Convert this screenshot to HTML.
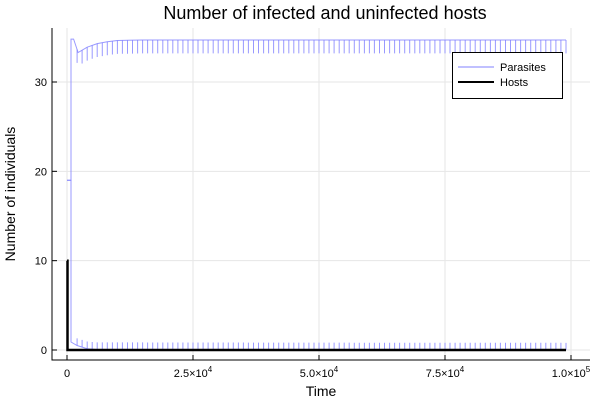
<!DOCTYPE html>
<html><head><meta charset="utf-8"><style>
body{margin:0;background:#fff;}
svg{display:block;font-family:"Liberation Sans",sans-serif;}
</style></head><body>
<svg id="c" width="600" height="400"></svg>
<script>
// data
const xTicks=[0,25000,50000,75000,100000];
const xTickLabels=[["0",""],["2.5×10","4"],["5.0×10","4"],["7.5×10","4"],["1.0×10","5"]];
const yTicks=[0,10,20,30];
const parasiteHighTimes=[0,800,801,1300,2200,4000,6000,8000,10000,15000,99000];
const parasiteHighValues=[19,19,34.8,34.8,33.3,33.9,34.3,34.5,34.65,34.7,34.7];
const parasiteLowTimes=[0,800,801,2000,4000,6000,99000];
const parasiteLowValues=[19,19,0.9,0.5,0.15,0.05,0];
const spikeTimes=[2000,3000,4000,5000,6000,7000,8000,9000,10000,11000,12000,13000,14000,15000,16000,17000,18000,19000,20000,21000,22000,23000,24000,25000,26000,27000,28000,29000,30000,31000,32000,33000,34000,35000,36000,37000,38000,39000,40000,41000,42000,43000,44000,45000,46000,47000,48000,49000,50000,51000,52000,53000,54000,55000,56000,57000,58000,59000,60000,61000,62000,63000,64000,65000,66000,67000,68000,69000,70000,71000,72000,73000,74000,75000,76000,77000,78000,79000,80000,81000,82000,83000,84000,85000,86000,87000,88000,89000,90000,91000,92000,93000,94000,95000,96000,97000,98000,99000];
const highSpikeDepth=[1.5];
const lowSpikeHeight=[0.8];
const hostTimes=[0,100,101,99000];
const hostValues=[10,10,0,0];

const svg=document.getElementById('c');
const NS='http://www.w3.org/2000/svg';
const X=v=>67+v*(504/100000);
const Y=v=>350-v*(268/30);
function el(t,a,p){const e=document.createElementNS(NS,t);for(const k in a)e.setAttribute(k,a[k]);(p||svg).appendChild(e);return e;}

// grid
for(const t of xTicks){const g=el('line',{x1:X(t),x2:X(t),y1:28,y2:360,stroke:'#e6e6e6','stroke-width':1});

}
for(const t of yTicks){const g=el('line',{x1:52,x2:590,y1:Y(t),y2:Y(t),stroke:'#e6e6e6','stroke-width':1});

}
// axes
const ax=el('path',{d:'M52,28 V360 H590',fill:'none',stroke:'#000','stroke-width':1});


xTicks.forEach((t,i)=>{
 el('line',{x1:X(t),x2:X(t),y1:360,y2:355,stroke:'#000'});
 const tx=el('text',{x:X(t),y:377,'font-size':11,'text-anchor':'middle'});
 tx.textContent=xTickLabels[i][0];
 if(xTickLabels[i][1]){const s=el('tspan',{'font-size':8,dy:-5},tx);s.textContent=xTickLabels[i][1];}
 
 
});
yTicks.forEach(t=>{
 el('line',{x1:52,x2:57,y1:Y(t),y2:Y(t),stroke:'#000'});
 const tx=el('text',{x:47,y:Y(t)+4,'font-size':11,'text-anchor':'end'});
 tx.textContent=t;
 
 
});
// parasites
function pathOf(ts,vs){return ts.map((t,i)=>(i?'L':'M')+X(t).toFixed(1)+','+Y(vs[i]).toFixed(1)).join(' ');}
function interp(ts,vs,t){for(let i=1;i<ts.length;i++)if(t<=ts[i]){const f=(t-ts[i-1])/(ts[i]-ts[i-1]||1);return vs[i-1]+f*(vs[i]-vs[i-1]);}return vs[vs.length-1];}
const par=el('g',{stroke:'#8080ff','stroke-opacity':0.8,fill:'none','stroke-width':1});


el('path',{d:pathOf(parasiteHighTimes,parasiteHighValues)},par);
el('path',{d:pathOf(parasiteLowTimes,parasiteLowValues)},par);
let sd='';
for(const t of spikeTimes){
 const h=interp(parasiteHighTimes,parasiteHighValues,t);
 sd+='M'+X(t).toFixed(1)+','+Y(h).toFixed(1)+'V'+Y(h-highSpikeDepth[0]).toFixed(1);
 const l=interp(parasiteLowTimes,parasiteLowValues,t);
 sd+='M'+X(t).toFixed(1)+','+Y(l).toFixed(1)+'V'+Y(l+lowSpikeHeight[0]).toFixed(1);
}
el('path',{d:sd},par);
// hosts
const host=el('path',{d:pathOf(hostTimes,hostValues),stroke:'#000','stroke-width':2.5,fill:'none'});


// labels
const title=el('text',{x:325,y:19,'font-size':18,'text-anchor':'middle'});title.textContent='Number of infected and uninfected hosts';


const xl=el('text',{x:321,y:396,'font-size':14,'text-anchor':'middle'});xl.textContent='Time';


const yl=el('text',{x:0,y:0,'font-size':14,'text-anchor':'middle',transform:'translate(15,194) rotate(-90)'});yl.textContent='Number of individuals';


// legend
const lg=el('g',{});


el('rect',{x:452.5,y:52.5,width:110,height:46,fill:'#fff',stroke:'#000'},lg);
el('line',{x1:458,x2:494,y1:67,y2:67,stroke:'#8080ff'},lg);
el('line',{x1:458,x2:494,y1:82,y2:82,stroke:'#000','stroke-width':2},lg);
const l1=el('text',{x:500,y:71,'font-size':11},lg);l1.textContent='Parasites';


const l2=el('text',{x:500,y:86,'font-size':11},lg);l2.textContent='Hosts';


</script>
</body></html>
